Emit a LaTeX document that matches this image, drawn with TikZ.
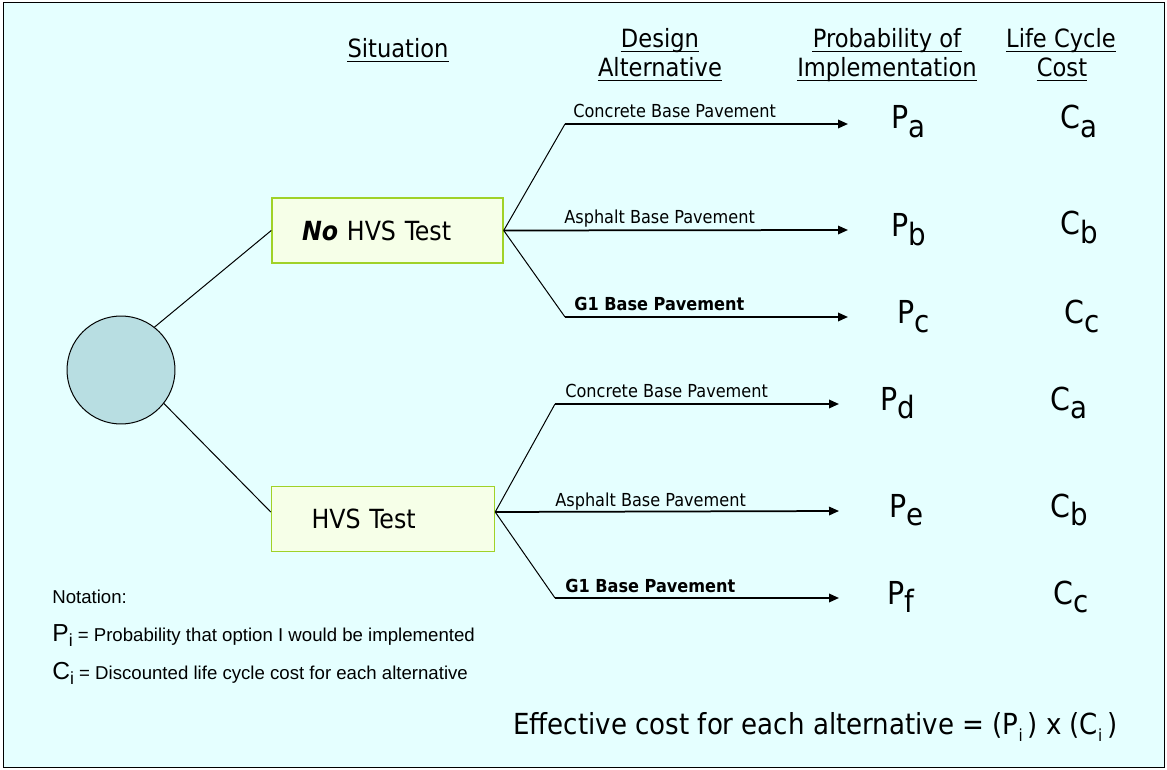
\documentclass[tikz,border=0pt]{standalone}
\usepackage{fontspec}
\setmainfont{DejaVu Sans Condensed}
\newfontfamily\notefont{Liberation Sans}
\usetikzlibrary{arrows.meta}
\definecolor{paper}{RGB}{229,255,255}
\definecolor{chancefill}{RGB}{184,222,226}
\definecolor{boxfill}{RGB}{246,255,232}
\definecolor{boxline}{RGB}{160,210,40}
\newcommand{\low}[1]{\raisebox{-0.5ex}{\fontsize{17.5}{17.5}\selectfont #1}}
\newcommand{\tinylow}[1]{\raisebox{-0.5ex}{\fontsize{9.5}{9.5}\selectfont #1}}
\tikzset{
  head/.style={anchor=base, inner sep=0pt, font=\fontsize{14.3}{15}\selectfont},
  headrule/.style={line width=0.035cm},
  chance/.style={circle, draw, line width=0.02cm, fill=chancefill, minimum size=2.16cm, inner sep=0pt},
  situ/.style={draw=boxline, line width=0.03cm, fill=boxfill, minimum height=1.3cm, align=left, font=\fontsize{15}{15}\selectfont},
  twig/.style={line width=0.02cm},
  altline/.style={line width=0.035cm, -{Triangle[length=0.2cm,width=0.17cm]}},
  lbl/.style={anchor=base west, inner sep=0pt, font=\fontsize{10.2}{10.2}\selectfont},
  pc/.style={anchor=base west, inner sep=0pt, font=\fontsize{18}{18}\selectfont},
  note/.style={anchor=base west, inner sep=0pt, font=\notefont\fontsize{10.6}{10.6}\selectfont},
}
\begin{document}
\begin{tikzpicture}[x=0.02cm,y=-0.02cm]
  \useasboundingbox (0,0) rectangle (1167,770);
  % Drawing the frame
  \draw [fill=paper, line width=0.02cm] (3,3) rectangle (1164,767);

  % Marking column headings
  \node [head] (sit) at (398,58) {Situation};
  \node [head] (alt1) at (660,48) {Design};
  \node [head] (alt2) at (660,77) {Alternative};
  \node [head] (prob1) at (887,48) {Probability of};
  \node [head] (prob2) at (887,77) {Implementation};
  \node [head] (lcc1) at (1061,48) {Life Cycle};
  \node [head] (lcc2) at (1062,77) {Cost};
  \foreach \h in {sit,alt1,alt2,prob1,prob2,lcc1,lcc2}
    \draw [headrule] ([yshift=-0.07cm]\h.base west) -- ([yshift=-0.07cm]\h.base east);

  % Drawing chance node and the two situations
  \node [chance] (root) at (121,370) {};
  \node [situ, text width=3.42cm, inner xsep=0.6cm] (nohvs) at (387.5,230.5) {\textbf{\textit{No}} HVS Test};
  \node [situ, text width=2.86cm, inner xsep=0.8cm] (hvs) at (383,519) {HVS Test};
  \draw [twig] (root.52) -- (nohvs.west);
  \draw [twig] (root.-38) -- ([yshift=0.14cm]hvs.west);

  % Drawing alternatives for No HVS Test
  \coordinate (ka) at (565,124);
  \coordinate (ta) at (848,124);
  \coordinate (tb) at (848,230);
  \coordinate (kc) at (565,317);
  \coordinate (tc) at (848,317);
  \draw [twig] (nohvs.east) -- (ka);
  \draw [altline] (ka) -- (ta);
  \draw [altline] (nohvs.east) -- (tb);
  \draw [twig] (nohvs.east) -- (kc);
  \draw [altline] (kc) -- (tc);
  \node [lbl] (la) at (573,118) {Concrete Base Pavement};
  \node [lbl] (lb) at (564,224) {Asphalt Base Pavement};
  \node [lbl] (lc) at (574,311) {\textbf{G1 Base Pavement}};

  % Drawing alternatives for HVS Test
  \coordinate (hvsfork) at ([yshift=0.14cm]hvs.east);
  \coordinate (kd) at (555,404);
  \coordinate (td) at (839,404);
  \coordinate (te) at (839,511);
  \coordinate (kf) at (555,598);
  \coordinate (tf) at (839,598);
  \draw [twig] (hvsfork) -- (kd);
  \draw [altline] (kd) -- (td);
  \draw [altline] (hvsfork) -- (te);
  \draw [twig] (hvsfork) -- (kf);
  \draw [altline] (kf) -- (tf);
  \node [lbl] (ld) at (565,398) {Concrete Base Pavement};
  \node [lbl] (le) at (555,506) {Asphalt Base Pavement};
  \node [lbl] (lf) at (565,592) {\textbf{G1 Base Pavement}};

  % Marking probabilities and costs
  \node [pc] (pa) at (891,129) {P\low{a}};
  \node [pc] (pb) at (891,237) {P\low{b}};
  \node [pc] (pc) at (897,324) {P\low{c}};
  \node [pc] (pd) at (880,410) {P\low{d}};
  \node [pc] (pe) at (889,517) {P\low{e}};
  \node [pc] (pf) at (887,604) {P\low{f}};
  \node [pc] (ca) at (1060,129) {C\low{a}};
  \node [pc] (cb) at (1060,235) {C\low{b}};
  \node [pc] (cc) at (1064,324) {C\low{c}};
  \node [pc] (cd) at (1050,410) {C\low{a}};
  \node [pc] (ce) at (1050,517) {C\low{b}};
  \node [pc] (cf) at (1053,604) {C\low{c}};

  % Marking notation
  \node [note] (nota) at (52,603) {Notation:};
  \node [note] (notp) at (52,641) {{\fontsize{14}{14}\selectfont P}\raisebox{-0.6ex}{\fontsize{10}{10}\selectfont i} = Probability that option I would be implemented};
  \node [note] (notc) at (52,679) {{\fontsize{14}{14}\selectfont C}\raisebox{-0.6ex}{\fontsize{10}{10}\selectfont i} = Discounted life cycle cost for each alternative};

  % Marking effective cost
  \node [anchor=base west, inner sep=0pt, font=\fontsize{16.5}{16.5}\selectfont] (eff) at (513,734) {Effective cost for each alternative = (P\tinylow{i}\,) x (C\tinylow{i}\,)};
\end{tikzpicture}
\end{document}
